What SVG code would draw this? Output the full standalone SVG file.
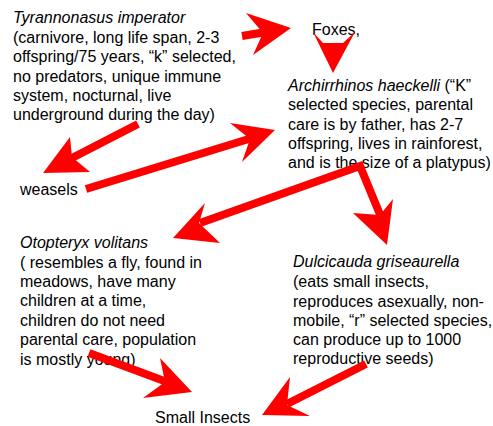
<svg xmlns="http://www.w3.org/2000/svg" width="493" height="426" viewBox="0 0 493 426">
<style>
  text { font-family: "Liberation Sans", Arial, sans-serif; font-size: 16px; fill: #000; }
  .it { font-style: italic; }
  .shaft { fill: none; stroke: #ff0000; stroke-width: 8; stroke-linejoin: miter; stroke-linecap: butt; }
  .head { fill: #ff0000; stroke: none; }
</style>
<rect width="493" height="426" fill="#fff"/>
<g id="tyrannonasus">
  <text x="13" y="23"><tspan class="it">Tyrannonasus imperator</tspan></text>
  <text x="13" y="42.5">(carnivore, long life span, 2-3</text>
  <text x="13" y="62">offspring/75 years, “k” selected,</text>
  <text x="13" y="81.5">no predators, unique immune</text>
  <text x="13" y="101">system, nocturnal, live</text>
  <text x="13" y="120">underground during the day)</text>
</g>
<g id="foxes">
  <text x="312" y="35">Foxes,</text>
</g>
<g id="archirrhinos">
  <text x="288" y="91"><tspan class="it">Archirrhinos haeckelli</tspan> (“K”</text>
  <text x="288" y="110">selected species, parental</text>
  <text x="288" y="129.5">care is by father, has 2-7</text>
  <text x="288" y="148.5">offspring, lives in rainforest,</text>
  <text x="288" y="168">and is the size of a platypus)</text>
</g>
<g id="weasels">
  <text x="20" y="195">weasels</text>
</g>
<g id="otopteryx">
  <text x="20" y="248" class="it">Otopteryx volitans</text>
  <text x="20" y="267.5">( resembles a fly, found in</text>
  <text x="20" y="287">meadows, have many</text>
  <text x="20" y="306">children at a time,</text>
  <text x="20" y="325.5">children do not need</text>
  <text x="20" y="345">parental care, population</text>
  <text x="20" y="364.5">is mostly young)</text>
</g>
<g id="dulcicauda">
  <text x="293" y="267" class="it">Dulcicauda griseaurella</text>
  <text x="293" y="287">(eats small insects,</text>
  <text x="293" y="306.5">reproduces asexually, non-</text>
  <text x="293" y="326">mobile, “r” selected species,</text>
  <text x="293" y="345">can produce up to 1000</text>
  <text x="293" y="364">reproductive seeds)</text>
</g>
<g id="small-insects">
  <text x="155" y="423">Small Insects</text>
</g>
<g id="connectors">
  <!-- Tyrannonasus -> Foxes -->
  <line class="shaft" x1="242" y1="36" x2="266" y2="32"/>
  <polygon class="head" points="246,13 291,28 253,55 263,33"/>
  <!-- Foxes -> Archirrhinos -->
  <polygon class="head" points="313,32 323,43 343,43 355,32 333,73"/>
  <!-- Tyrannonasus -> weasels -->
  <line class="shaft" x1="138" y1="124" x2="70" y2="159"/>
  <polygon class="head" points="70,137 72,157 90,172 43,173"/>
  <!-- weasels -> Archirrhinos -->
  <line class="shaft" x1="86" y1="189" x2="252" y2="138"/>
  <polygon class="head" points="230,123 275,130 242,162 250,139"/>
  <!-- Archirrhinos -> Otopteryx and Dulcicauda -->
  <polyline class="shaft" points="200,223 360,166 381,217"/>
  <polygon class="head" points="205,203 173,238 220,243 199,223"/>
  <polygon class="head" points="353,213 380,215 393,199 387,245"/>
  <!-- Otopteryx -> Small Insects -->
  <line class="shaft" x1="89" y1="353" x2="167" y2="382"/>
  <polygon class="head" points="160,358 192,392 143,398 165,382"/>
  <!-- Dulcicauda -> Small Insects -->
  <line class="shaft" x1="366" y1="364" x2="287" y2="404"/>
  <polygon class="head" points="290,377 287,405 310,416 262,415"/>
</g>
</svg>
